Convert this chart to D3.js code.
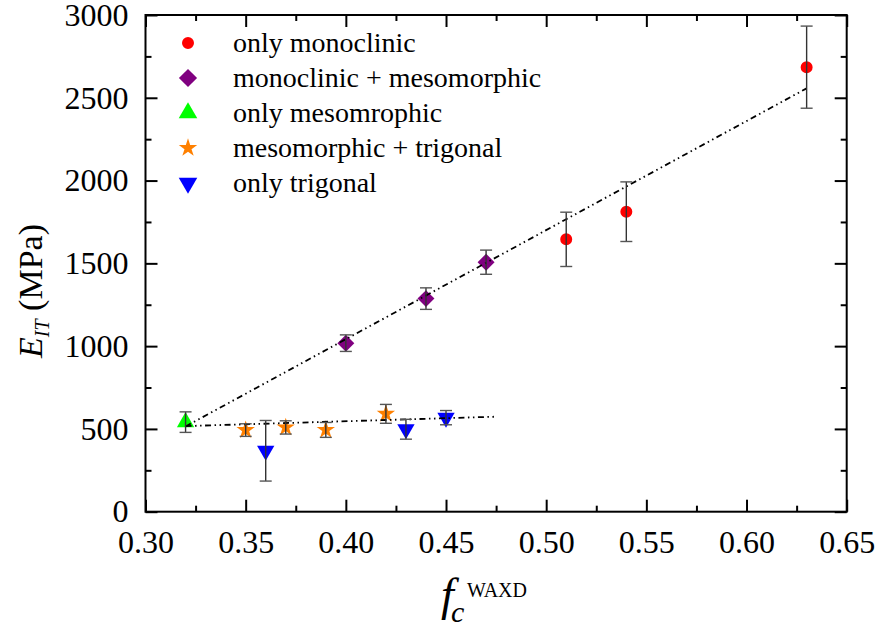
<!DOCTYPE html>
<html>
<head>
<meta charset="utf-8">
<script src="https://cdn.jsdelivr.net/npm/d3@7/dist/d3.min.js"></script>
<style>
  html, body { margin: 0; padding: 0; background: #fff; }
  svg, svg text { font-family: 'Liberation Serif', 'Times New Roman', Times, 'DejaVu Serif', serif; }
</style>
</head>
<body>
<div id="chart"></div>
<script>
// E_IT vs f_c (WAXD) scatter with error bars and two fit lines
var xTicks = [0.30, 0.35, 0.40, 0.45, 0.50, 0.55, 0.60, 0.65];
var yTicks = [0, 500, 1000, 1500, 2000, 2500, 3000];

var monoX = [0.51, 0.54, 0.63];
var monoY = [1645, 1812, 2685];
var monoErr = [164, 180, 248];

var monoMesoX = [0.40, 0.44, 0.47];
var monoMesoY = [1018, 1287, 1507];
var monoMesoErr = [50, 65, 73];

var mesoX = [0.32];
var mesoY = [541];
var mesoErr = [62];

var mesoTrigX = [0.35, 0.37, 0.39, 0.42];
var mesoTrigY = [493, 509, 494, 591];
var mesoTrigErr = [38, 40, 45, 57];

var trigX = [0.36, 0.43, 0.45];
var trigY = [368, 498, 568];
var trigErr = [183, 60, 43];

var fitUpperX = [0.32, 0.63];
var fitUpperY = [515, 2557];
var fitLowerX = [0.32, 0.475];
var fitLowerY = [517, 574];

var seriesNames = ['only monoclinic', 'monoclinic + mesomorphic', 'only mesomrophic',
                   'mesomorphic + trigonal', 'only trigonal'];

(function() {
  'use strict';

  var serif = "'Liberation Serif', 'Times New Roman', Times, 'DejaVu Serif', serif";
  var width = 879, height = 630;
  var margin = { top: 15, right: 32.3, bottom: 118.3, left: 145.5 };
  var innerW = width - margin.left - margin.right;
  var innerH = height - margin.top - margin.bottom;

  var series = [
    { name: seriesNames[0], xs: monoX, ys: monoY, err: monoErr, color: '#ff0000', shape: 'circle' },
    { name: seriesNames[1], xs: monoMesoX, ys: monoMesoY, err: monoMesoErr, color: '#800080', shape: 'diamond' },
    { name: seriesNames[2], xs: mesoX, ys: mesoY, err: mesoErr, color: '#00ff00', shape: 'up' },
    { name: seriesNames[3], xs: mesoTrigX, ys: mesoTrigY, err: mesoTrigErr, color: '#ff8000', shape: 'star' },
    { name: seriesNames[4], xs: trigX, ys: trigY, err: trigErr, color: '#0000ff', shape: 'down' }
  ];

  var svg = d3.select('#chart').append('svg')
    .attr('width', width)
    .attr('height', height)
    .attr('font-family', serif);

  var g = svg.append('g')
    .attr('transform', 'translate(' + margin.left + ',' + margin.top + ')');

  var x = d3.scaleLinear().domain([0.30, 0.65]).range([0, innerW]);
  var y = d3.scaleLinear().domain([0, 3000]).range([innerH, 0]);

  var xMinor = d3.range(0.325, 0.65, 0.05);
  var yMinor = d3.range(250, 3000, 500);

  function styleAxis(sel) {
    sel.attr('font-family', serif).attr('font-size', 32);
    sel.select('.domain').remove();
    sel.selectAll('.tick line').attr('stroke', '#000').attr('stroke-width', 2);
    sel.selectAll('.tick text').attr('fill', '#000');
  }

  // bottom: major with labels, minor without
  g.append('g').attr('transform', 'translate(0,' + innerH + ')')
    .call(d3.axisBottom(x).tickValues(xTicks).tickFormat(d3.format('.2f'))
      .tickSizeInner(-12).tickSizeOuter(0).tickPadding(19))
    .call(styleAxis);
  g.append('g').attr('transform', 'translate(0,' + innerH + ')')
    .call(d3.axisBottom(x).tickValues(xMinor).tickFormat('').tickSizeInner(-6).tickSizeOuter(0))
    .call(styleAxis);

  // top
  g.append('g')
    .call(d3.axisTop(x).tickValues(xTicks).tickFormat('').tickSizeInner(-12).tickSizeOuter(0))
    .call(styleAxis);
  g.append('g')
    .call(d3.axisTop(x).tickValues(xMinor).tickFormat('').tickSizeInner(-6).tickSizeOuter(0))
    .call(styleAxis);

  // left
  g.append('g')
    .call(d3.axisLeft(y).tickValues(yTicks).tickFormat(d3.format('d'))
      .tickSizeInner(-12).tickSizeOuter(0).tickPadding(17))
    .call(styleAxis);
  g.append('g')
    .call(d3.axisLeft(y).tickValues(yMinor).tickFormat('').tickSizeInner(-6).tickSizeOuter(0))
    .call(styleAxis);

  // right
  g.append('g').attr('transform', 'translate(' + innerW + ',0)')
    .call(d3.axisRight(y).tickValues(yTicks).tickFormat('').tickSizeInner(-12).tickSizeOuter(0))
    .call(styleAxis);
  g.append('g').attr('transform', 'translate(' + innerW + ',0)')
    .call(d3.axisRight(y).tickValues(yMinor).tickFormat('').tickSizeInner(-6).tickSizeOuter(0))
    .call(styleAxis);

  // frame
  g.append('rect')
    .attr('width', innerW).attr('height', innerH)
    .attr('fill', 'none').attr('stroke', '#000').attr('stroke-width', 2);

  // markers
  function symbolFor(shape, big) {
    var k = big ? 1.15 : 1;
    if (shape === 'circle') return d3.symbol(d3.symbolCircle, 113 * k)();
    if (shape === 'diamond') return d3.symbol(d3.symbolSquare, 144 * k)();
    if (shape === 'star') return d3.symbol(d3.symbolStar, 105 * k)();
    return d3.symbol(d3.symbolTriangle, 130 * k)();
  }
  function rotFor(shape) {
    if (shape === 'diamond') return 45;
    if (shape === 'down') return 180;
    return 0;
  }

  series.forEach(function(s) {
    var pts = s.xs.map(function(v, i) { return { x: v, y: s.ys[i], e: s.err[i] }; });
    g.append('g').selectAll('path')
      .data(pts).enter().append('path')
      .attr('d', symbolFor(s.shape))
      .attr('fill', s.color)
      .attr('transform', function(d) {
        return 'translate(' + x(d.x) + ',' + y(d.y) + ') rotate(' + rotFor(s.shape) + ')';
      });
  });

  // fit lines (dash-dot-dot)
  var line = d3.line().x(function(d) { return x(d[0]); }).y(function(d) { return y(d[1]); });
  [[fitUpperX, fitUpperY], [fitLowerX, fitLowerY]].forEach(function(f) {
    g.append('path')
      .datum(f[0].map(function(v, i) { return [v, f[1][i]]; }))
      .attr('d', line)
      .attr('fill', 'none')
      .attr('stroke', '#000')
      .attr('stroke-width', 1.8)
      .attr('stroke-dasharray', '6,3.5,1.5,3.5,1.5,3.5');
  });

  // error bars on top
  series.forEach(function(s) {
    var pts = s.xs.map(function(v, i) { return { x: v, y: s.ys[i], e: s.err[i] }; });
    var eb = g.append('g').attr('stroke', '#333').attr('stroke-width', 1.4);
    eb.selectAll('.v').data(pts).enter().append('line')
      .attr('x1', function(d) { return x(d.x); })
      .attr('x2', function(d) { return x(d.x); })
      .attr('y1', function(d) { return y(d.y - d.e); })
      .attr('y2', function(d) { return y(d.y + d.e); });
    [-1, 1].forEach(function(sign) {
      eb.selectAll('.c' + sign).data(pts).enter().append('line')
        .attr('stroke', '#555')
        .attr('x1', function(d) { return x(d.x) - 6; })
        .attr('x2', function(d) { return x(d.x) + 6; })
        .attr('y1', function(d) { return y(d.y + sign * d.e); })
        .attr('y2', function(d) { return y(d.y + sign * d.e); });
    });
  });

  // legend
  var legend = svg.append('g').attr('transform', 'translate(188,43)');
  var rows = legend.selectAll('g').data(series).enter().append('g')
    .attr('transform', function(d, i) { return 'translate(0,' + (i * 35) + ')'; });
  rows.append('path')
    .attr('d', function(d) { return symbolFor(d.shape, d.shape !== 'circle' && d.shape !== 'star'); })
    .attr('fill', function(d) { return d.color; })
    .attr('transform', function(d) { return 'rotate(' + rotFor(d.shape) + ')'; });
  rows.append('text')
    .attr('x', 45)
    .attr('dy', '0.32em')
    .attr('font-size', 28)
    .attr('fill', '#000')
    .text(function(d) { return d.name; });

  // y title
  var yt = svg.append('text')
    .attr('transform', 'translate(42,291) rotate(-90)')
    .attr('text-anchor', 'middle')
    .attr('font-size', 34)
    .attr('fill', '#000');
  yt.append('tspan').attr('font-style', 'italic').text('E');
  yt.append('tspan').attr('font-style', 'italic').attr('font-size', 20).attr('dy', 7).text('IT');
  yt.append('tspan').attr('dy', -7).text('\u00a0(MPa)');

  // x title
  var xt = svg.append('g').attr('fill', '#000');
  xt.append('text').attr('x', 441).attr('y', 610)
    .attr('font-style', 'italic').attr('font-size', 46).text('f');
  xt.append('text').attr('x', 451).attr('y', 622)
    .attr('font-style', 'italic').attr('font-size', 30).text('c');
  xt.append('text').attr('x', 467).attr('y', 597)
    .attr('font-size', 20).text('WAXD');
})();
</script>
</body>
</html>
